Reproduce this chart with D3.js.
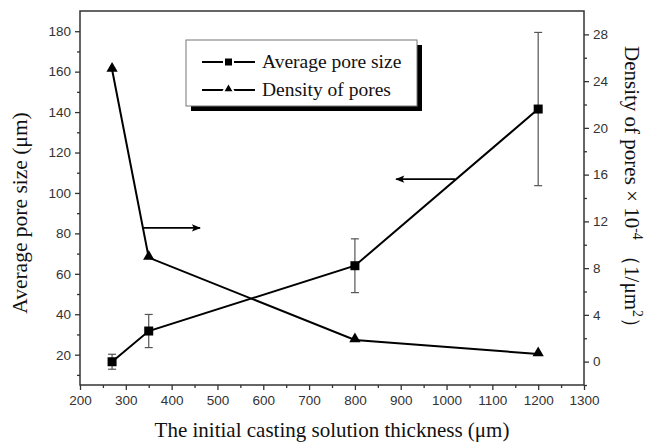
<!DOCTYPE html>
<html>
<head>
<meta charset="utf-8">
<script src="https://cdn.jsdelivr.net/npm/d3@7"></script>
<style>
  body { margin: 0; background: #fff; }
  svg { display: block; }
</style>
</head>
<body>
<div id="chart"></div>
<script>
// Data
var thickness = [270, 350, 800, 1200];
var poreSize = [16.5, 31.7, 64.0, 141.5];
var poreSizeErr = [3.7, 8.2, 13.3, 37.9];
var poreDensity = [25.0, 8.9, 1.85, 0.65];

var xTicks = d3.range(200, 1301, 100);
var xMinor = d3.range(250, 1300, 100);
var leftTicks = d3.range(20, 181, 20);
var leftMinor = d3.range(10, 171, 20);
var rightTicks = d3.range(0, 29, 4);
var rightMinor = d3.range(-2, 27, 4);

var width = 647, height = 442;
var plot = { left: 80, right: 584, top: 11, bottom: 385 };

var x = d3.scaleLinear().domain([200, 1300]).range([plot.left, plot.right]);
var yL = d3.scaleLinear().domain([5, 190]).range([plot.bottom, plot.top]);
var yR = d3.scaleLinear().domain([-2, 30]).range([plot.bottom, plot.top]);

var svg = d3.select('#chart')
            .append('svg')
            .attr('width', width)
            .attr('height', height);

var defs = svg.append('defs');
defs.append('marker')
    .attr('id', 'arrow')
    .attr('viewBox', '0 0 10 10')
    .attr('refX', 9)
    .attr('refY', 5)
    .attr('markerWidth', 6)
    .attr('markerHeight', 5)
    .attr('markerUnits', 'strokeWidth')
    .attr('orient', 'auto')
  .append('path')
    .attr('d', 'M0,1 L10,5 L0,9 L2,5 Z')
    .attr('fill', '#000');

var tickFont = 'Liberation Sans, Arial, sans-serif';
var titleFont = 'Liberation Serif, Times New Roman, serif';

function styleAxis(g) {
  g.select('.domain').remove();
  g.selectAll('line').attr('stroke', '#333').attr('stroke-width', 1.3);
  g.selectAll('text')
   .attr('font-family', tickFont)
   .attr('font-size', 13.5)
   .attr('fill', '#333');
}

// Bottom axis
svg.append('g')
   .attr('transform', 'translate(0,' + plot.bottom + ')')
   .call(d3.axisBottom(x).tickValues(xTicks).tickSize(5).tickPadding(5).tickFormat(d3.format('d')))
   .call(styleAxis);
svg.append('g')
   .attr('transform', 'translate(0,' + plot.bottom + ')')
   .call(d3.axisBottom(x).tickValues(xMinor).tickSize(3).tickFormat(''))
   .call(styleAxis);

// Left axis
svg.append('g')
   .attr('transform', 'translate(' + plot.left + ',0)')
   .call(d3.axisLeft(yL).tickValues(leftTicks).tickSize(5).tickPadding(4))
   .call(styleAxis);
svg.append('g')
   .attr('transform', 'translate(' + plot.left + ',0)')
   .call(d3.axisLeft(yL).tickValues(leftMinor).tickSize(3).tickFormat(''))
   .call(styleAxis);

// Right axis
svg.append('g')
   .attr('transform', 'translate(' + plot.right + ',0)')
   .call(d3.axisRight(yR).tickValues(rightTicks).tickSize(5).tickPadding(4))
   .call(styleAxis);
svg.append('g')
   .attr('transform', 'translate(' + plot.right + ',0)')
   .call(d3.axisRight(yR).tickValues(rightMinor).tickSize(3).tickFormat(''))
   .call(styleAxis);

// Frame
svg.append('rect')
   .attr('x', plot.left)
   .attr('y', plot.top)
   .attr('width', plot.right - plot.left)
   .attr('height', plot.bottom - plot.top)
   .attr('fill', 'none')
   .attr('stroke', '#333')
   .attr('stroke-width', 1.5);

// Error bars
var err = svg.append('g').attr('stroke', '#555').attr('stroke-width', 1.2);
thickness.forEach(function (t, i) {
  var cx = x(t);
  var y1 = yL(poreSize[i] + poreSizeErr[i]);
  var y2 = yL(poreSize[i] - poreSizeErr[i]);
  err.append('line').attr('x1', cx).attr('x2', cx).attr('y1', y1).attr('y2', y2);
  err.append('line').attr('x1', cx - 4).attr('x2', cx + 4).attr('y1', y1).attr('y2', y1);
  err.append('line').attr('x1', cx - 4).attr('x2', cx + 4).attr('y1', y2).attr('y2', y2);
});

// Lines
var sizeLine = d3.line()
                 .x(function (d, i) { return x(thickness[i]); })
                 .y(function (d) { return yL(d); });
var densityLine = d3.line()
                    .x(function (d, i) { return x(thickness[i]); })
                    .y(function (d) { return yR(d); });

svg.append('path')
   .datum(poreSize)
   .attr('d', sizeLine)
   .attr('fill', 'none')
   .attr('stroke', '#000')
   .attr('stroke-width', 2);

svg.append('path')
   .datum(poreDensity)
   .attr('d', densityLine)
   .attr('fill', 'none')
   .attr('stroke', '#000')
   .attr('stroke-width', 2);

// Markers
svg.selectAll('.sq')
   .data(poreSize)
   .enter()
   .append('rect')
   .attr('class', 'sq')
   .attr('x', function (d, i) { return x(thickness[i]) - 4.5; })
   .attr('y', function (d) { return yL(d) - 4.5; })
   .attr('width', 9)
   .attr('height', 9)
   .attr('fill', '#000');

var tri = d3.symbol().type(d3.symbolTriangle).size(55);
svg.selectAll('.tri')
   .data(poreDensity)
   .enter()
   .append('path')
   .attr('class', 'tri')
   .attr('d', tri)
   .attr('transform', function (d, i) {
     return 'translate(' + x(thickness[i]) + ',' + (yR(d) - 1) + ')';
   })
   .attr('fill', '#000');

// Arrows pointing to each series' axis
svg.append('line')
   .attr('x1', x(338)).attr('x2', x(462))
   .attr('y1', yL(82.7)).attr('y2', yL(82.7))
   .attr('stroke', '#000').attr('stroke-width', 1.8)
   .attr('marker-end', 'url(#arrow)');
svg.append('line')
   .attr('x1', x(1019)).attr('x2', x(890))
   .attr('y1', yL(106.8)).attr('y2', yL(106.8))
   .attr('stroke', '#000').attr('stroke-width', 1.8)
   .attr('marker-end', 'url(#arrow)');

// Legend
var lg = svg.append('g').attr('transform', 'translate(186,40)');
lg.append('rect')
  .attr('x', 5).attr('y', 5).attr('width', 231).attr('height', 66)
  .attr('fill', '#000');
lg.append('rect')
  .attr('x', 0).attr('y', 0).attr('width', 231).attr('height', 66)
  .attr('fill', '#fff').attr('stroke', '#777').attr('stroke-width', 1);

var items = [
  { label: 'Average pore size', shape: 'square' },
  { label: 'Density of pores', shape: 'triangle' }
];
items.forEach(function (it, i) {
  var yy = 22 + i * 28;
  lg.append('line').attr('x1', 16).attr('x2', 69).attr('y1', yy).attr('y2', yy)
    .attr('stroke', '#000').attr('stroke-width', 2);
  if (it.shape === 'square') {
    lg.append('rect').attr('x', 42.5 - 4.5).attr('y', yy - 4.5).attr('width', 9).attr('height', 9)
      .attr('fill', '#000').attr('stroke', '#fff').attr('stroke-width', 2);
  } else {
    lg.append('path').attr('d', tri).attr('transform', 'translate(42.5,' + (yy - 1) + ')')
      .attr('fill', '#000').attr('stroke', '#fff').attr('stroke-width', 2);
  }
  lg.append('text')
    .attr('x', 76).attr('y', yy + 6)
    .attr('font-family', titleFont)
    .attr('font-size', 19.5)
    .attr('fill', '#111')
    .text(it.label);
});

// Axis titles
svg.append('text')
   .attr('x', (plot.left + plot.right) / 2)
   .attr('y', 437)
   .attr('text-anchor', 'middle')
   .attr('font-family', titleFont)
   .attr('font-size', 21)
   .attr('fill', '#111')
   .text('The initial casting solution thickness (μm)');

svg.append('text')
   .attr('transform', 'translate(27,' + ((plot.top + plot.bottom) / 2 + 15) + ') rotate(-90)')
   .attr('text-anchor', 'middle')
   .attr('font-family', titleFont)
   .attr('font-size', 21.5)
   .attr('fill', '#111')
   .text('Average pore size (μm)');

var rt = svg.append('text')
   .attr('transform', 'translate(625,' + 192 + ') rotate(90)')
   .attr('text-anchor', 'middle')
   .attr('font-family', titleFont)
   .attr('font-size', 21)
   .attr('fill', '#111');
rt.append('tspan').text('Density of pores × 10');
rt.append('tspan').attr('dy', -8).attr('font-size', 14).text('-4');
rt.append('tspan').attr('dy', 8).text(' （1/μm');
rt.append('tspan').attr('dy', -8).attr('font-size', 14).text('2');
rt.append('tspan').attr('dy', 8).text('）');
</script>
</body>
</html>
